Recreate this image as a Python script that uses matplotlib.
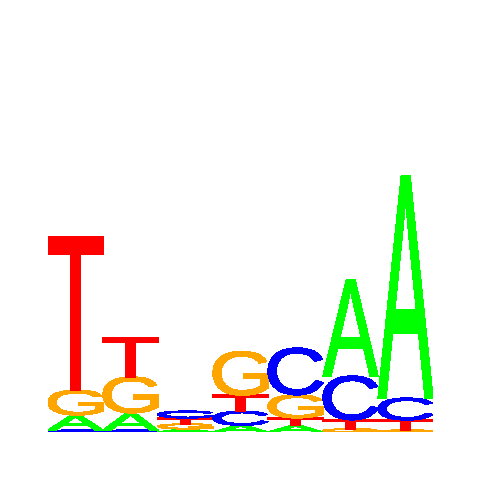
import numpy as np
import matplotlib
matplotlib.use("Agg")
import matplotlib.pyplot as plt
from matplotlib.textpath import TextPath
from matplotlib.font_manager import FontProperties
from matplotlib.patches import PathPatch
from matplotlib.transforms import Affine2D

# bases and their colours
bases = ["A", "C", "G", "T"]
colors = {"A": "#00FF00", "C": "#0000FF", "G": "#FFA500", "T": "#FF0000"}

# information content per position (bits)
positions = [1, 2, 3, 4, 5, 6, 7]
height_A = [0.078, 0.089, 0.016, 0.035, 0.035, 0.500, 1.156]
height_C = [0.010, 0.010, 0.036, 0.073, 0.245, 0.229, 0.115]
height_G = [0.130, 0.188, 0.026, 0.229, 0.120, 0.016, 0.010]
height_T = [0.797, 0.203, 0.031, 0.083, 0.038, 0.047, 0.052]

heights = {"A": height_A, "C": height_C, "G": height_G, "T": height_T}

fp = FontProperties(family="Liberation Sans", weight="normal")


def draw_letter(ax, letter, x, y, w, h):
    tp = TextPath((0, 0), letter, size=1, prop=fp)
    bb = tp.get_extents()
    tr = (Affine2D().translate(-bb.x0, -bb.y0)
          .scale(w / bb.width, h / bb.height)
          .translate(x, y))
    path = tr.transform_path(tp)
    patch = PathPatch(path, facecolor=colors[letter], edgecolor=colors[letter],
                      lw=0.3, antialiased=False)
    ax.add_patch(patch)


fig = plt.figure(figsize=(4.8, 4.8), dpi=100)
ax = fig.add_axes([48 / 480, 48 / 480, 385 / 480, 384 / 480])

for i, pos in enumerate(positions):
    col = sorted(bases, key=lambda b: heights[b][i])
    y = 0.0
    for b in col:
        h = heights[b][i]
        draw_letter(ax, b, pos - 0.5, y, 1.0, h)
        y += h

ax.set_xlim(0.5, 7.5)
ax.set_ylim(0, 2)
ax.axis("off")

fig.savefig("out.png", dpi=100)
